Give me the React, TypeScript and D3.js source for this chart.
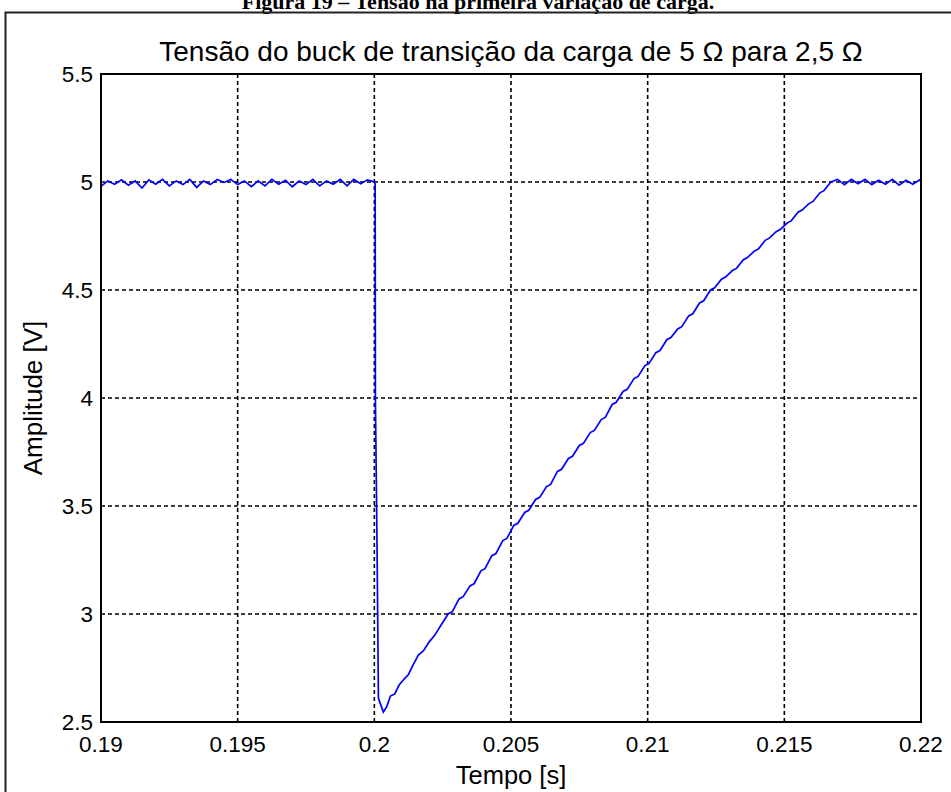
import * as d3 from "d3";

// Tensão de saída do buck
const preStep: [number, number][] = [
  [0.19, 4.98], [0.19025, 5.005], [0.1905, 4.99], [0.19075, 5.01], [0.191, 4.985],
  [0.19125, 5.005], [0.1915, 4.972], [0.19175, 5.01], [0.192, 4.99], [0.19225, 5.012],
  [0.1925, 4.982], [0.19275, 5.005], [0.193, 4.988], [0.19325, 5.012], [0.1935, 4.975],
  [0.19375, 5.005], [0.194, 4.988], [0.19425, 5.012], [0.1945, 4.998], [0.19475, 5.012],
  [0.195, 4.988], [0.19525, 5.005], [0.1955, 4.978], [0.19575, 5.005], [0.196, 4.982],
  [0.19625, 5.012], [0.1965, 4.99], [0.19675, 5.008], [0.197, 4.978], [0.19725, 5.005],
  [0.1975, 4.988], [0.19775, 5.012], [0.198, 4.982], [0.19825, 5.005], [0.1985, 4.99],
  [0.19875, 5.012], [0.199, 4.982], [0.19925, 5.012], [0.1995, 4.992], [0.19975, 5.01],
  [0.2, 5.0],
];

const stepDrop: [number, number][] = [
  [0.20003, 4.99], [0.20004, 3.99], [0.2001, 3.3], [0.20015, 2.61], [0.20033, 2.546],
  [0.20045, 2.57], [0.20059, 2.62], [0.20075, 2.63], [0.2009, 2.67], [0.2011, 2.7],
  [0.20125, 2.72], [0.2014, 2.76], [0.20161, 2.81], [0.2018, 2.83], [0.202, 2.87],
  [0.2022, 2.9], [0.20245, 2.95],
];

const ramp: [number, number][] = [
  [0.2027, 3.0], [0.20285, 3.01], [0.2031, 3.07], [0.20325, 3.08], [0.2035, 3.13],
  [0.20365, 3.14], [0.2039, 3.2], [0.20405, 3.21], [0.2043, 3.27], [0.20445, 3.28],
  [0.2047, 3.34], [0.20485, 3.35], [0.2051, 3.41], [0.20525, 3.42], [0.2055, 3.47],
  [0.20565, 3.48], [0.2059, 3.53], [0.20605, 3.54], [0.2063, 3.59], [0.20645, 3.6],
  [0.2067, 3.66], [0.20685, 3.67], [0.2071, 3.72], [0.20725, 3.73], [0.2075, 3.78],
  [0.20765, 3.79], [0.2079, 3.84], [0.20805, 3.85], [0.2083, 3.9], [0.20845, 3.91],
  [0.2087, 3.97], [0.20885, 3.98], [0.2091, 4.03], [0.20925, 4.04], [0.2095, 4.09],
  [0.20965, 4.1], [0.2099, 4.15], [0.21005, 4.16], [0.2103, 4.21], [0.21045, 4.22],
  [0.2107, 4.27], [0.21085, 4.28], [0.2111, 4.32], [0.21125, 4.33], [0.2115, 4.38],
  [0.21165, 4.39], [0.2119, 4.44], [0.21205, 4.45], [0.2123, 4.5], [0.21245, 4.51],
  [0.2127, 4.55], [0.21285, 4.56], [0.2131, 4.59], [0.21325, 4.6], [0.2135, 4.64],
  [0.21365, 4.65], [0.2139, 4.68], [0.21405, 4.69], [0.2143, 4.73], [0.21445, 4.74],
  [0.2147, 4.77], [0.21485, 4.78], [0.2151, 4.81], [0.21525, 4.82], [0.2155, 4.86],
  [0.21565, 4.87], [0.2159, 4.9], [0.21605, 4.91], [0.2163, 4.95], [0.21645, 4.96],
  [0.2167, 5.0],
];

const postStep: [number, number][] = [
  [0.21695, 5.012], [0.2172, 4.988], [0.21745, 5.012], [0.2177, 4.992], [0.21795, 5.012],
  [0.2182, 4.988], [0.21845, 5.008], [0.2187, 4.99], [0.21895, 5.012], [0.2192, 4.985],
  [0.21945, 5.008], [0.2197, 4.99], [0.21995, 5.01], [0.22, 5.0],
];

const xTicks = [0.19, 0.195, 0.2, 0.205, 0.21, 0.215, 0.22];
const yTicks = [2.5, 3, 3.5, 4, 4.5, 5, 5.5];

const W = 951;
const H = 792;
const plot = { left: 101, right: 921, top: 74, bottom: 722 };
const font = "'Liberation Sans', Arial, sans-serif";

export default function App() {
  const x = d3.scaleLinear().domain([0.19, 0.22]).range([plot.left, plot.right]);
  const y = d3.scaleLinear().domain([2.5, 5.5]).range([plot.bottom, plot.top]);

  const data = [...preStep, ...stepDrop, ...ramp, ...postStep];
  const line = d3
    .line<[number, number]>()
    .x((d) => x(d[0]))
    .y((d) => y(d[1]));

  return (
    <svg
      width={W}
      height={H}
      style={{ position: "absolute", left: 0, top: 0, background: "#fff" }}
    >
      <text
        x={478}
        y={9}
        textAnchor="middle"
        fontFamily="'Liberation Serif', 'Times New Roman', serif"
        fontWeight="bold"
        fontSize={22}
      >
        Figura 19 – Tensão na primeira variação de carga.
      </text>
      <rect x={5.5} y={12.5} width={980} height={820} fill="none" stroke="#222" strokeWidth={2} />

      {/* grade */}
      {xTicks.slice(1, -1).map((t) => (
        <line
          key={"gx" + t}
          x1={x(t)}
          x2={x(t)}
          y1={plot.top}
          y2={plot.bottom}
          stroke="#000"
          strokeWidth={1.6}
          strokeDasharray="4,3"
        />
      ))}
      {yTicks.slice(1, -1).map((t) => (
        <line
          key={"gy" + t}
          x1={plot.left}
          x2={plot.right}
          y1={y(t)}
          y2={y(t)}
          stroke="#000"
          strokeWidth={1.6}
          strokeDasharray="4,3"
        />
      ))}

      <path d={line(data) ?? ""} fill="none" stroke="#0000ff" strokeWidth={1.7} />

      <rect
        x={plot.left}
        y={plot.top}
        width={plot.right - plot.left}
        height={plot.bottom - plot.top}
        fill="none"
        stroke="#000"
        strokeWidth={2}
      />

      {/* rótulos */}
      {xTicks.map((t) => (
        <text key={"tx" + t} x={x(t)} y={752} textAnchor="middle" fontFamily={font} fontSize={22.5}>
          {String(t)}
        </text>
      ))}
      {yTicks.map((t) => (
        <text
          key={"ty" + t}
          x={plot.left - 8}
          y={y(t) + 8}
          textAnchor="end"
          fontFamily={font}
          fontSize={22.5}
        >
          {String(t)}
        </text>
      ))}

      <text x={(plot.left + plot.right) / 2} y={61} textAnchor="middle" fontFamily={font} fontSize={28}>
        Tensão do buck de transição da carga de 5 Ω para 2,5 Ω
      </text>
      <text x={(plot.left + plot.right) / 2} y={784} textAnchor="middle" fontFamily={font} fontSize={25.5}>
        Tempo [s]
      </text>
      <text
        transform={`translate(42,${(plot.top + plot.bottom) / 2}) rotate(-90)`}
        textAnchor="middle"
        fontFamily={font}
        fontSize={26}
      >
        Amplitude [V]
      </text>
    </svg>
  );
}
